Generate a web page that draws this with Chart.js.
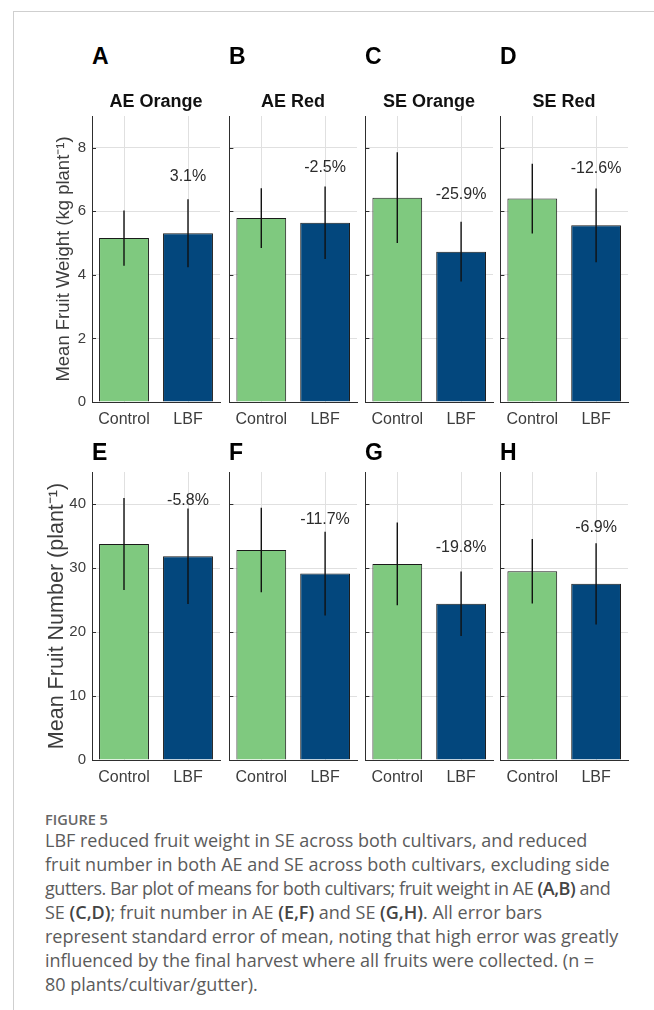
<!DOCTYPE html>
<html>
<head>
<meta charset="utf-8">
<script src="https://cdn.jsdelivr.net/npm/chart.js@4.4.1/dist/chart.umd.min.js"></script>
<style>
    body { margin: 0; background: #fff; width: 654px; height: 1010px; position: relative; overflow: hidden;
           font-family: "Liberation Sans", Arial, sans-serif; }
    .frame-top { position: absolute; left: 13px; top: 11px; right: 0; height: 1px; background: #cfcfcf; }
    .frame-left { position: absolute; left: 13px; top: 11px; bottom: 0; width: 1px; background: #cfcfcf; }
    canvas { position: absolute; }
    .letter { position: absolute; font-weight: bold; font-size: 23px; line-height: 1; color: #000; }
    .cultivar { position: absolute; font-weight: bold; font-size: 18px; line-height: 1; color: #111;
                width: 128px; text-align: center; }
    .caption { position: absolute; left: 45px; top: 811px; font-family: "Open Sans", sans-serif;
               color: #5b5b5b; white-space: nowrap; }
    .caption .fig { font-size: 14.5px; font-weight: 600; line-height: 17px; color: #666; }
    .caption .body { font-size: 18px; line-height: 24px; }
    .caption b { font-weight: 600; color: #444; }
</style>
</head>
<body>
<div class="frame-top"></div>
<div class="frame-left"></div>

<div class="caption">
    <div class="fig">FIGURE 5</div>
    <div class="body">
        LBF reduced fruit weight in SE across both cultivars, and reduced<br>
        fruit number in both AE and SE across both cultivars, excluding side<br>
        <span style="letter-spacing:-0.45px">gutters. Bar plot of means for both cultivars; fruit weight in AE <b>(A,B)</b> and</span><br>
        SE <b>(C,D)</b>; fruit number in AE <b>(E,F)</b> and SE <b>(G,H)</b>. All error bars<br>
        represent standard error of mean, noting that high error was greatly<br>
        influenced by the final harvest where all fruits were collected. (n =<br>
        80 plants/cultivar/gutter).
    </div>
</div>

<script>
const categories = ['Control', 'LBF'];
const panelLetters = ['A', 'B', 'C', 'D', 'E', 'F', 'G', 'H'];
const cultivars = ['AE Orange', 'AE Red', 'SE Orange', 'SE Red'];

// fruit weight, kg per plant (A-D)
const weightMeans = [[5.16, 5.31], [5.79, 5.64], [6.43, 4.73], [6.40, 5.56]];
const weightSE = [[0.87, 1.07], [0.94, 1.14], [1.43, 0.94], [1.10, 1.16]];
const weightChange = ['3.1%', '-2.5%', '-25.9%', '-12.6%'];
const weightChangeAt = [7.1, 7.37, 6.52, 7.33];
const weightTicks = [0, 2, 4, 6, 8];
const weightMax = 9;

// fruit number per plant (E-H)
const numberMeans = [[33.75, 31.83], [32.8, 29.13], [30.64, 24.42], [29.5, 27.53]];
const numberSE = [[7.2, 7.45], [6.6, 6.55], [6.45, 5.05], [5.05, 6.35]];
const numberChange = ['-5.8%', '-11.7%', '-19.8%', '-6.9%'];
const numberChangeAt = [40.5, 37.6, 33.2, 36.3];
const numberTicks = [0, 10, 20, 30, 40];
const numberMax = 45;

const barColors = ['#7fc97f', '#03477d'];
const gridColor = '#e0e0e0';
const axisColor = '#2e2e2e';
const tickColor = '#3d3d3d';

const plotLefts = [92, 229, 365, 500];
const plotWidth = 128;

const rows = [
    { means: weightMeans, se: weightSE, change: weightChange, changeAt: weightChangeAt,
      ticks: weightTicks, max: weightMax, title: 'Mean Fruit Weight (kg plant\u207B\u00B9)',
      titleSize: 18.5, titleCenter: 32, top: 116, height: 286, letterTop: 45 },
    { means: numberMeans, se: numberSE, change: numberChange, changeAt: numberChangeAt,
      ticks: numberTicks, max: numberMax, title: 'Mean Fruit Number (plant\u207B\u00B9)',
      titleSize: 21.5, titleCenter: 25, top: 472, height: 288, letterTop: 441 }
];

// vertical SE lines, the % change over the LBF bar and small inward ticks on the y axis
const errorBars = {
    id: 'errorBars',
    afterDatasetsDraw(chart, args, opts) {
        const { ctx, chartArea } = chart;
        const y = chart.scales.y;
        const ds = chart.data.datasets[0];
        const meta = chart.getDatasetMeta(0);
        ctx.save();
        ctx.strokeStyle = '#111';
        ctx.lineWidth = 1.4;
        meta.data.forEach((bar, i) => {
            ctx.beginPath();
            ctx.moveTo(bar.x, y.getPixelForValue(ds.data[i] - ds.se[i]));
            ctx.lineTo(bar.x, y.getPixelForValue(ds.data[i] + ds.se[i]));
            ctx.stroke();
        });

        const last = meta.data[meta.data.length - 1];
        ctx.fillStyle = '#2b2b2b';
        ctx.font = '16px "Liberation Sans", Arial, sans-serif';
        ctx.textAlign = 'center';
        ctx.textBaseline = 'middle';
        ctx.fillText(opts.text, last.x, y.getPixelForValue(opts.at));

        ctx.strokeStyle = axisColor;
        ctx.lineWidth = 1;
        y.ticks.forEach(t => {
            const py = Math.round(y.getPixelForValue(t.value)) + 0.5;
            ctx.beginPath();
            ctx.moveTo(chartArea.left, py);
            ctx.lineTo(chartArea.left + 4, py);
            ctx.stroke();
        });
        ctx.restore();
    }
};

function addText(cls, text, left, top) {
    const el = document.createElement('div');
    el.className = cls;
    el.textContent = text;
    el.style.left = left + 'px';
    el.style.top = top + 'px';
    document.body.appendChild(el);
}

function makePanel(row, col) {
    const yW = col === 0 ? 60 : 2;
    const padTop = 20, padRight = 6, xH = 34;
    const canvas = document.createElement('canvas');
    canvas.width = yW + plotWidth + padRight;
    canvas.height = padTop + row.height + xH;
    canvas.style.left = (plotLefts[col] - yW) + 'px';
    canvas.style.top = (row.top - padTop) + 'px';
    document.body.appendChild(canvas);

    new Chart(canvas, {
        type: 'bar',
        data: {
            labels: categories,
            datasets: [{
                data: row.means[col],
                se: row.se[col],
                backgroundColor: barColors,
                borderColor: '#1a1a1a',
                borderWidth: 1,
                barPercentage: 0.78,
                categoryPercentage: 1
            }]
        },
        options: {
            responsive: false,
            animation: false,
            events: [],
            layout: { padding: { top: padTop, right: padRight, left: 0, bottom: 0 } },
            plugins: {
                legend: { display: false },
                tooltip: { enabled: false },
                errorBars: { text: row.change[col], at: row.changeAt[col] }
            },
            scales: {
                x: {
                    grid: { color: gridColor, offset: false, drawTicks: false },
                    border: { color: axisColor, width: 1 },
                    ticks: { color: tickColor, font: { size: 16 }, padding: 8 },
                    afterFit: s => { s.height = xH; }
                },
                y: {
                    min: 0,
                    max: row.max,
                    afterBuildTicks: s => { s.ticks = row.ticks.map(v => ({ value: v })); },
                    grid: { color: gridColor, drawTicks: false },
                    border: { color: axisColor, width: 1 },
                    ticks: { display: col === 0, color: tickColor, font: { size: 15 }, padding: 6 },
                    title: {
                        display: col === 0,
                        text: row.title,
                        color: tickColor,
                        font: { size: row.titleSize },
                        padding: { top: row.titleCenter - row.titleSize * 0.6, bottom: 0 }
                    },
                    afterFit: s => { s.width = yW; }
                }
            }
        },
        plugins: [errorBars]
    });
}

rows.forEach((row, r) => {
    plotLefts.forEach((left, c) => {
        makePanel(row, c);
        addText('letter', panelLetters[r * 4 + c], left, row.letterTop);
        if (r === 0) addText('cultivar', cultivars[c], left, 91.5);
    });
});
</script>
</body>
</html>
